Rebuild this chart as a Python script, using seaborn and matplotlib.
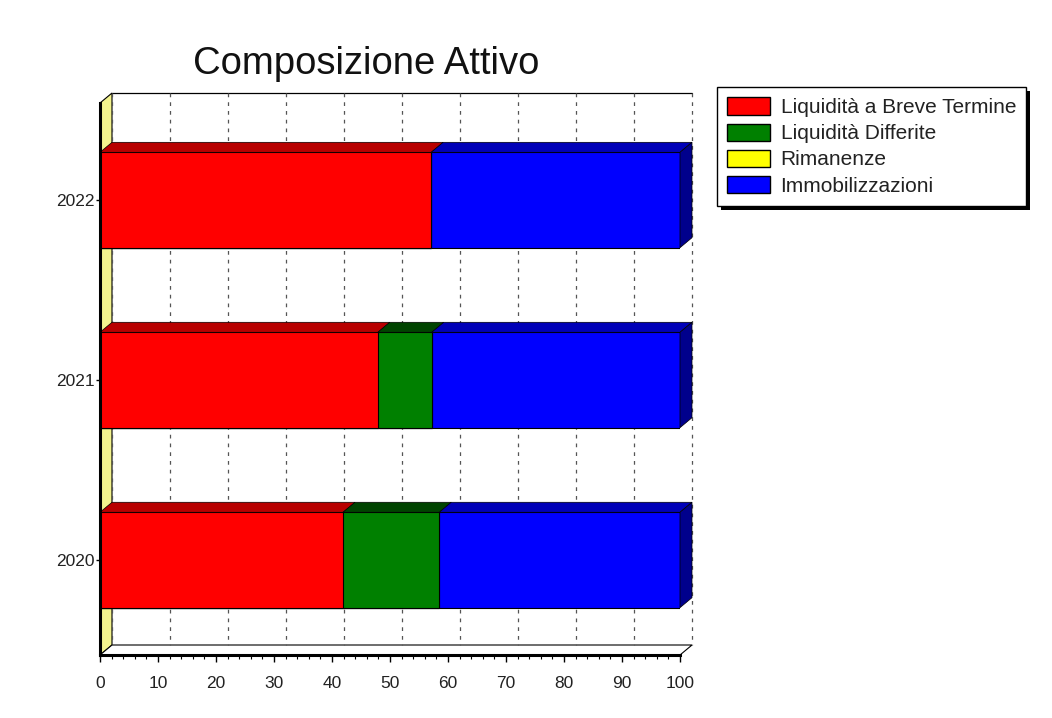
import numpy as np
import pandas as pd
import matplotlib
matplotlib.use("Agg")
import matplotlib.pyplot as plt
import seaborn as sns
from matplotlib.patches import Polygon, Patch, Rectangle
from matplotlib.lines import Line2D
from matplotlib.ticker import MultipleLocator

# Composizione percentuale dell'attivo per anno
anni = ["2022", "2021", "2020"]
serie = ["Liquidità a Breve Termine", "Liquidità Differite", "Rimanenze", "Immobilizzazioni"]
liquidita_breve = [57.1, 47.9, 41.9]
liquidita_differite = [0.0, 9.3, 16.6]
rimanenze = [0.0, 0.0, 0.0]
immobilizzazioni = [42.9, 42.8, 41.5]
x_ticks = [0, 10, 20, 30, 40, 50, 60, 70, 80, 90, 100]

colori = ["#ff0000", "#008000", "#ffff00", "#0000ff"]
colori_top = ["#b80000", "#004400", "#b8b800", "#0000b8"]
colore_lato = "#00008c"
colore_parete = "#f3f38e"

sns.set_style("white")
plt.rcParams["font.family"] = ["Liberation Sans", "DejaVu Sans"]

W, H = 1052, 718
fig = plt.figure(figsize=(W / 100, H / 100), dpi=100)
ax = fig.add_axes([100 / W, (H - 655) / H, 580 / W, 552 / H])

valori = np.array([liquidita_breve, liquidita_differite, rimanenze, immobilizzazioni])
cum = np.cumsum(valori, axis=0)
df = pd.DataFrame({"Anno": anni})
for i, s in enumerate(serie):
    df[s] = cum[i]

BAR_W = 0.53
Y_TOP, Y_BOT = -0.539, 2.528
XMAX = 100
DX = 12 / 5.8      # profondità prospettica (unità dati asse x)
DY = 10 / 180.0    # profondità prospettica (unità dati asse y)

# barre impilate: dalla somma cumulata maggiore alla minore
for i in reversed(range(len(serie))):
    sns.barplot(data=df, x=serie[i], y="Anno", order=anni, orient="h",
                color=colori[i], saturation=1, width=BAR_W,
                edgecolor="black", linewidth=0.8, ax=ax, zorder=4)

ax.set_xlim(0, XMAX)
ax.set_ylim(Y_BOT, Y_TOP)
ax.set_xlabel("")
ax.set_ylabel("")

# parete di fondo, parete sinistra e pavimento
ax.add_patch(Polygon([(DX, Y_TOP - DY), (XMAX + DX, Y_TOP - DY),
                      (XMAX + DX, Y_BOT - DY), (DX, Y_BOT - DY)],
                     closed=True, facecolor="white", edgecolor="none",
                     clip_on=False, zorder=0))
ax.add_patch(Polygon([(0, Y_TOP), (DX, Y_TOP - DY), (DX, Y_BOT - DY), (0, Y_BOT)],
                     closed=True, facecolor=colore_parete, edgecolor="black",
                     linewidth=0.8, clip_on=False, zorder=1))
ax.add_patch(Polygon([(0, Y_BOT), (XMAX, Y_BOT), (XMAX + DX, Y_BOT - DY), (DX, Y_BOT - DY)],
                     closed=True, facecolor="white", edgecolor="black",
                     linewidth=0.8, clip_on=False, zorder=1))
ax.add_line(Line2D([DX, XMAX + DX], [Y_TOP - DY, Y_TOP - DY], color="black",
                   linewidth=0.9, clip_on=False, zorder=2))
for t in x_ticks:
    ax.add_line(Line2D([t + DX, t + DX], [Y_TOP - DY, Y_BOT - DY], color="#555555",
                       linewidth=0.9, linestyle=(0, (3, 4)), clip_on=False, zorder=2))

# facce superiori e laterali delle barre
for j in range(len(anni)):
    yt = j - BAR_W / 2
    yb = j + BAR_W / 2
    for i in range(len(serie)):
        v = valori[i, j]
        if v <= 0:
            continue
        x1 = cum[i, j]
        x0 = x1 - v
        ax.add_patch(Polygon([(x0, yt), (x1, yt), (x1 + DX, yt - DY), (x0 + DX, yt - DY)],
                             closed=True, facecolor=colori_top[i], edgecolor="black",
                             linewidth=0.5, clip_on=False, zorder=5))
    xe = cum[-1, j]
    ax.add_patch(Polygon([(xe, yt), (xe + DX, yt - DY), (xe + DX, yb - DY), (xe, yb)],
                         closed=True, facecolor=colore_lato, edgecolor="black",
                         linewidth=0.5, clip_on=False, zorder=5))

# assi
for s in ["top", "right"]:
    ax.spines[s].set_visible(False)
for s in ["bottom", "left"]:
    ax.spines[s].set_linewidth(2.2)
    ax.spines[s].set_color("black")
    ax.spines[s].set_zorder(6)
ax.set_xticks(x_ticks)
ax.xaxis.set_minor_locator(MultipleLocator(2))
ax.tick_params(axis="x", which="major", bottom=True, length=5, width=1,
               direction="out", labelsize=12.5, pad=10, colors="black", labelcolor="#222222")
ax.tick_params(axis="x", which="minor", bottom=True, length=3, width=0.8,
               direction="out", colors="black")
ax.tick_params(axis="y", which="major", left=True, length=3, width=1,
               direction="out", labelsize=12.5, pad=1, colors="black", labelcolor="#222222")
ax.set_facecolor("none")

fig.text(366 / W, 1 - 64 / H, "Composizione Attivo", ha="center", va="center",
         fontsize=27.5, color="#111111")

handles = [Patch(facecolor=c, edgecolor="black", linewidth=1) for c in colori]
leg = fig.legend(handles, serie, loc="upper left", bbox_to_anchor=(717 / W, 1 - 87 / H),
                 frameon=True, fancybox=False, shadow=False,
                 fontsize=15, handlelength=2.05, handleheight=0.9, handletextpad=0.5,
                 borderpad=0.5, labelspacing=0.3, borderaxespad=0)
leg.get_frame().set_edgecolor("black")
leg.get_frame().set_linewidth(1)
leg.get_frame().set_alpha(1)
for t in leg.get_texts():
    t.set_color("#222222")

# ombra nera della legenda
fig.canvas.draw()
bb = leg.get_window_extent()
fig.patches.append(Rectangle((bb.x0 + 4, bb.y0 - 4), bb.width, bb.height,
                             transform=None, facecolor="black", edgecolor="none",
                             zorder=leg.get_zorder() - 0.5, figure=fig))

fig.savefig("out.png", dpi=100, facecolor="white")
